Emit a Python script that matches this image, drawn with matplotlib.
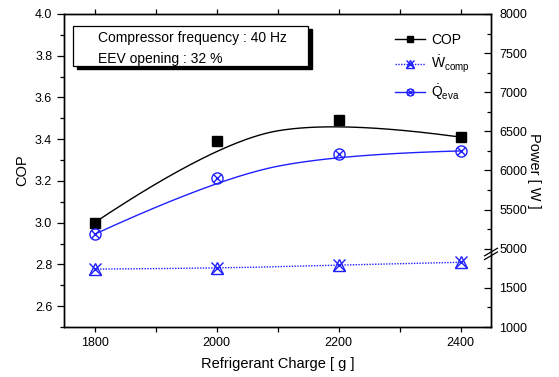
import numpy as np
import matplotlib
matplotlib.use("Agg")
import matplotlib.pyplot as plt
from matplotlib.lines import Line2D
from matplotlib.patches import Rectangle
from matplotlib.legend_handler import HandlerTuple

plt.rcParams['font.family'] = ['Liberation Sans', 'DejaVu Sans']
plt.rcParams['mathtext.fontset'] = 'custom'
plt.rcParams['mathtext.rm'] = 'Liberation Sans'
plt.rcParams['mathtext.it'] = 'Liberation Sans'

# ---- data ----
charge = [1800, 2000, 2200, 2400]
cop = [3.00, 3.39, 3.49, 3.41]
w_comp = [1740, 1750, 1792, 1827]
q_eva = [5185, 5900, 6208, 6250]

cop_ticks = [2.6, 2.8, 3.0, 3.2, 3.4, 3.6, 3.8, 4.0]
power_ticks = [1000, 1500, 5000, 5500, 6000, 6500, 7000, 7500, 8000]
x_ticks = [1800, 2000, 2200, 2400]


def bspline(xs, ys, k=2, num=300):
    """Clamped uniform B-spline using the data points as control points."""
    P = np.column_stack([xs, ys]).astype(float)
    n = len(P)
    t = np.concatenate([np.zeros(k), np.arange(n - k + 1), np.full(k, n - k)]).astype(float)
    u = np.linspace(0, n - k, num)
    u[-1] -= 1e-9

    def N(i, p, uu):
        if p == 0:
            return ((t[i] <= uu) & (uu < t[i + 1])).astype(float)
        a = 0.0 if t[i + p] == t[i] else (uu - t[i]) / (t[i + p] - t[i])
        b = 0.0 if t[i + p + 1] == t[i + 1] else (t[i + p + 1] - uu) / (t[i + p + 1] - t[i + 1])
        return a * N(i, p - 1, uu) + b * N(i + 1, p - 1, uu)

    C = sum(N(i, k, u)[:, None] * P[i] for i in range(n))
    return C[:, 0], C[:, 1]


def fwd(v):
    v = np.asarray(v, dtype=float)
    return np.where(v <= 2000, (v - 1000) / 500.0,
                    np.where(v >= 5000, 2 + (v - 5000) / 500.0, 2.0))


def inv(u):
    u = np.asarray(u, dtype=float)
    return np.where(u < 2, 1000 + 500 * u, 5000 + 500 * (u - 2))


fig = plt.figure(figsize=(5.59, 3.77), dpi=100)
ax = fig.add_axes([0.1145, 0.1326, 0.7639, 0.8303])
ax2 = ax.twinx()

blue = '#2020ff'

# COP
bx, by = bspline(charge, cop)
ax.plot(bx, by, color='black', lw=1.0)
ax.plot(charge, cop, 's', color='black', ms=7)

# Power axis with break
ax2.set_yscale('function', functions=(fwd, inv))
ax2.set_ylim(1000, 8000)
wx, wy = bspline(charge, w_comp)
ax2.plot(wx, wy, color=blue, lw=1.0, ls=(0, (1, 1)))
ax2.plot(charge, w_comp, '^', mfc='none', mec=blue, ms=9, mew=1.0)
ax2.plot(charge, w_comp, 'x', color=blue, ms=9, mew=1.0)

qx, qy = bspline(charge, q_eva)
ax2.plot(qx, qy, color=blue, lw=1.0)
ax2.plot(charge, q_eva, 'o', mfc='none', mec=blue, ms=8, mew=1.0)
ax2.plot(charge, q_eva, 'x', color=blue, ms=6, mew=1.0)

ax.set_xlim(1750, 2450)
ax.set_ylim(2.5, 4.0)
ax.set_xticks(x_ticks)
ax.set_xticks(np.arange(1800, 2401, 100), minor=True)
ax.set_yticks(cop_ticks)
ax.set_yticks(np.arange(2.5, 4.01, 0.1), minor=True)
ax.set_yticklabels([f'{v:.1f}' for v in cop_ticks])

ax2.set_yticks(power_ticks)
ax2.set_yticklabels([str(v) for v in power_ticks])
ax2.set_yticks([1250, 1750] + list(np.arange(5250, 8000, 500)), minor=True)

ax.tick_params(axis='both', which='major', direction='out', length=5, width=0.9,
               labelsize=9, top=True)
ax.tick_params(axis='both', which='minor', direction='out', length=3, width=0.9, top=True)
ax.tick_params(axis='x', which='both', length=3.5)
ax2.tick_params(axis='y', which='major', direction='in', length=5, width=0.9,
                labelsize=9, pad=6)
ax2.tick_params(axis='y', which='minor', direction='in', length=3, width=0.9)

for a in (ax, ax2):
    for s in a.spines.values():
        s.set_linewidth(1.0)

# break marks on right axis
yb = 1 - (252 - 14) / 313.0
for dy in (-0.012, 0.0):
    ax2.plot([0.985, 1.015], [yb + dy - 0.012, yb + dy + 0.012], transform=ax2.transAxes,
             color='black', lw=0.9, clip_on=False)

ax.set_xlabel('Refrigerant Charge [ g ]', fontsize=10.5, labelpad=6)
ax.set_ylabel('COP', fontsize=10.5, labelpad=4)
ax2.set_ylabel('Power [ W ]', fontsize=10.5, rotation=-90, labelpad=10)

# text box with shadow
ax.add_patch(Rectangle((0.030, 0.824), 0.550, 0.128, transform=ax.transAxes,
                       facecolor='black', edgecolor='black', zorder=5))
ax.add_patch(Rectangle((0.021, 0.834), 0.550, 0.128, transform=ax.transAxes,
                       facecolor='white', edgecolor='black', lw=0.9, zorder=6))
ax.text(0.080, 0.923, 'Compressor frequency : 40 Hz', transform=ax.transAxes,
        fontsize=10, va='center', ha='left', zorder=7)
ax.text(0.080, 0.856, 'EEV opening : 32 %', transform=ax.transAxes,
        fontsize=10, va='center', ha='left', zorder=7)

# legend
h_cop = Line2D([], [], color='black', lw=1.0, marker='s', ms=5)
h_w = (Line2D([], [], color=blue, lw=1.0, ls=(0, (1, 1))),
       Line2D([], [], ls='none', marker='^', mfc='none', mec=blue, ms=6),
       Line2D([], [], ls='none', marker='x', color=blue, ms=6))
h_q = (Line2D([], [], color=blue, lw=1.0),
       Line2D([], [], ls='none', marker='o', mfc='none', mec=blue, ms=5),
       Line2D([], [], ls='none', marker='x', color=blue, ms=4))
leg = ax.legend([h_cop, h_w, h_q],
                ['COP', r'$\dot{\mathrm{W}}_{\mathrm{comp}}$', r'$\dot{\mathrm{Q}}_{\mathrm{eva}}$'],
                handler_map={tuple: HandlerTuple(ndivide=1, pad=0)},
                loc='upper left', bbox_to_anchor=(0.752, 0.97), frameon=False,
                fontsize=10, handlelength=2.2, handletextpad=0.4, labelspacing=0.5,
                borderpad=0.2)
leg.set_zorder(10)

fig.savefig('out.png', dpi=100)
